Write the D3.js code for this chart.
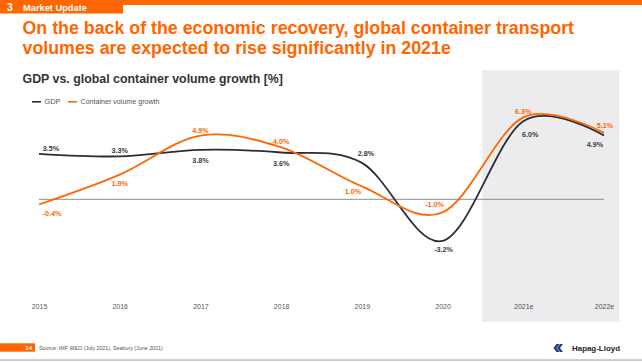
<!DOCTYPE html>
<html><head><meta charset="utf-8">
<script src="https://cdn.jsdelivr.net/npm/d3@7"></script>
<style>
html,body{margin:0;padding:0;background:#fff;}
svg{display:block;font-family:"Liberation Sans",Arial,sans-serif;}
</style></head>
<body>
<svg id="c" width="642" height="362"></svg>
<script>
// ---- data ----
const categories = ["2015","2016","2017","2018","2019","2020","2021e","2022e"];
const gdpValues = [3.5, 3.3, 3.8, 3.6, 2.8, -3.2, 6.0, 4.9];
const containerValues = [-0.4, 1.9, 4.9, 4.0, 1.0, -1.0, 6.3, 5.1];
const forecastCategories = ["2021e","2022e"];
const seriesNames = ["GDP","Container volume growth"];
const titleLines = ["On the back of the economic recovery, global container transport",
                    "volumes are expected to rise significantly in 2021e"];
const subtitle = "GDP vs. global container volume growth [%]";
const sourceText = "Source: IMF WEO (July 2021), Seabury (June 2021)";
const pageNumber = "14";
const sectionNumber = "3";
const sectionName = "Market Update";

// ---- label placement (layout only) ----
const gdpLabelOffset = [[12,-3],[0,-3.4],[0,13],[0,13.5],[4,-7],[1,11],[7,15.5],[-9,11.5]];
const contLabelOffset = [[13,11.5],[0,11.4],[0,-2.6],[0,-3.3],[-9,7.7],[-8,-5.3],[0,-3.8],[1,-5.5]];

const ORANGE = "#ff6600", DARK = "#2d2d37", GREY_TXT = "#555";
const svg = d3.select("#c");

function fit(sel, w){
  const l = sel.node().getComputedTextLength();
  const fs = parseFloat(sel.attr("font-size"));
  sel.attr("font-size", (fs * w / l).toFixed(2));
}

// header
svg.append("rect").attr("x",0).attr("y",0).attr("width",642).attr("height",5).attr("fill",ORANGE);
svg.append("rect").attr("x",0).attr("y",0).attr("width",123).attr("height",13.5).attr("fill",ORANGE);
svg.append("text").attr("x",7).attr("y",11).attr("font-size",10.5).attr("font-weight","bold").attr("fill","#fff").text(sectionNumber);
const mu = svg.append("text").attr("x",23).attr("y",10.5).attr("font-size",8.5).attr("font-weight","bold").attr("fill","#fff").text(sectionName);
fit(mu, 64);

// title
const tl = [34.3, 53.5];
const t1 = svg.append("text").attr("x",22.5).attr("y",tl[0]).attr("font-size",17).attr("font-weight","bold").attr("fill",ORANGE).text(titleLines[0]);
fit(t1, 552);
svg.append("text").attr("x",22.5).attr("y",tl[1]).attr("font-size",t1.attr("font-size")).attr("font-weight","bold").attr("fill",ORANGE).text(titleLines[1]);

const st = svg.append("text").attr("x",22.5).attr("y",83.3).attr("font-size",11.5).attr("font-weight","bold").attr("fill","#333").text(subtitle);
fit(st, 260.5);

// scales
const x = d3.scalePoint().domain(categories).range([39, 604]);
const y = d3.scaleLinear().domain([0, 1]).range([199.3, 186.3]);

// forecast band
svg.append("rect")
  .attr("x", x(forecastCategories[0]) - 41)
  .attr("y", 70)
  .attr("width", x(forecastCategories[forecastCategories.length-1]) + 15.3 - (x(forecastCategories[0]) - 41))
  .attr("height", 252)
  .attr("fill", "#ecebee");

// zero line
svg.append("line").attr("x1", x(categories[0])).attr("x2", x(categories[categories.length-1]))
  .attr("y1", y(0)).attr("y2", y(0)).attr("stroke","#8f8f8f").attr("stroke-width",1);

// x axis labels
const xAxis = d3.axisBottom(x).tickSize(0).tickPadding(0);
const gx = svg.append("g").attr("transform","translate(0,305)").call(xAxis);
gx.select(".domain").remove();
gx.selectAll("text").attr("font-size",7).attr("fill",GREY_TXT).attr("font-family","Liberation Sans, Arial, sans-serif").attr("dy","0.5em");

// lines
const line = d3.line().x((d,i)=>x(categories[i])).y(d=>y(d)).curve(d3.curveCardinal.tension(0));
svg.append("path").attr("d", line(gdpValues)).attr("fill","none").attr("stroke",DARK).attr("stroke-width",1.8);
svg.append("path").attr("d", line(containerValues)).attr("fill","none").attr("stroke",ORANGE).attr("stroke-width",1.8);

// labels
function fmt(v){ return v.toFixed(1) + "%"; }
svg.append("g").selectAll("text").data(gdpValues).join("text")
  .attr("x",(d,i)=>x(categories[i]) + gdpLabelOffset[i][0])
  .attr("y",(d,i)=>y(d) + gdpLabelOffset[i][1])
  .attr("text-anchor","middle").attr("font-size",7.2).attr("font-weight","bold").attr("fill","#3a3a3a")
  .text(fmt);
svg.append("g").selectAll("text").data(containerValues).join("text")
  .attr("x",(d,i)=>x(categories[i]) + contLabelOffset[i][0])
  .attr("y",(d,i)=>y(d) + contLabelOffset[i][1])
  .attr("text-anchor","middle").attr("font-size",7.2).attr("font-weight","bold").attr("fill",ORANGE)
  .text(fmt);

// legend
const leg = svg.append("g");
const legItems = [{name:seriesNames[0], c:DARK, x:32, w:16},{name:seriesNames[1], c:ORANGE, x:68, w:79}];
legItems.forEach(it=>{
  leg.append("line").attr("x1",it.x).attr("x2",it.x+9).attr("y1",101.8).attr("y2",101.8).attr("stroke",it.c).attr("stroke-width",1.6);
  const t = leg.append("text").attr("x",it.x+12.5).attr("y",104.2).attr("font-size",7).attr("fill",GREY_TXT).text(it.name);
  fit(t, it.w);
});

// footer
svg.append("rect").attr("x",0).attr("y",343.3).attr("width",35).attr("height",8.4).attr("fill",ORANGE);
svg.append("text").attr("x",32).attr("y",350).attr("text-anchor","end").attr("font-size",6).attr("font-weight","bold").attr("fill","#fff").text(pageNumber);
const src = svg.append("text").attr("x",39).attr("y",350).attr("font-size",5.5).attr("fill",GREY_TXT).text(sourceText);
fit(src, 124);
svg.append("line").attr("x1",0).attr("x2",642).attr("y1",360).attr("y2",360).attr("stroke","#a0a0a0").attr("stroke-width",1);

// logo
const logo = svg.append("g").attr("fill","#1b3c87");
logo.append("path").attr("d","M556.5,344 L559.5,344 L556.5,348 L559.5,352 L556.5,352 L553.5,348 Z");
logo.append("path").attr("d","M560,344 L563,344 L560,348 L563,352 L560,352 L557,348 Z");
const hl = svg.append("text").attr("x",572).attr("y",350.8).attr("font-size",8).attr("font-weight","bold").attr("fill","#1e1e28").text("Hapag-Lloyd");
fit(hl, 48);
</script>
</body></html>
